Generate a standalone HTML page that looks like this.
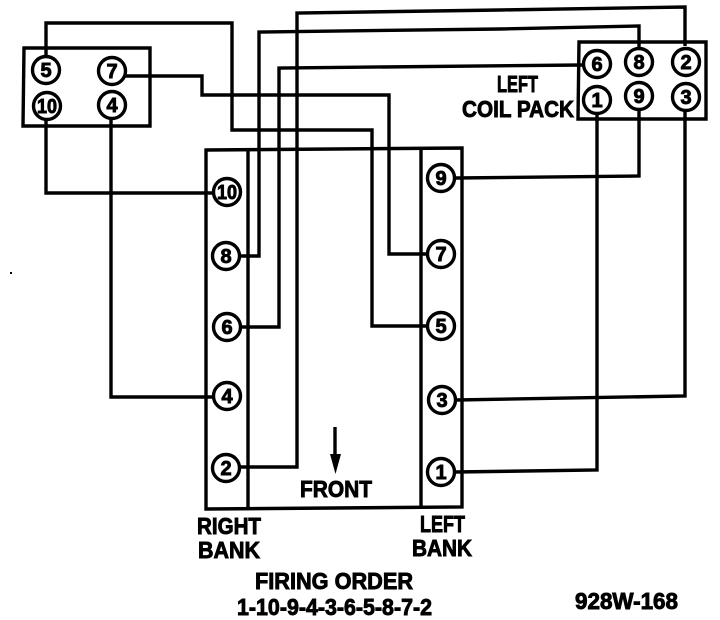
<!DOCTYPE html>
<html><head><meta charset="utf-8"><style>html,body{margin:0;padding:0;background:#fff}svg{display:block}
text{font-family:"Liberation Sans",sans-serif;font-weight:bold;fill:#000;stroke:#000;stroke-width:.9}
.n{font-size:20px;text-anchor:middle}.t{font-size:23px}</style></head><body>
<svg width="720" height="620" viewBox="0 0 720 620" xmlns="http://www.w3.org/2000/svg">
<g fill="none" stroke="#000" stroke-width="3.4" stroke-linejoin="miter">
<path d="M24 48H150V126H23Z"/>
<path d="M579 42H706V119H578Z"/>
<path d="M206 150L462 148V507L206 509Z"/>
<path d="M248 150V508M421 149V507"/>
<path d="M46 56V23H232V130H372V326H428"/>
<path d="M125 76H202V95H389V254H427"/>
<path d="M46 120V193H214"/>
<path d="M111 120V397H214"/>
<path d="M240 256H259V32L500 29L639 26V50"/>
<path d="M240 327H279V68L582 65"/>
<path d="M240 467H297V13L500 10L685 7V46"/>
<path d="M597 112V470L455 472"/>
<path d="M639 110V176L456 178"/>
<path d="M685 112V396L456 400"/>
<path d="M335 427V455"/>
</g>
<path d="M330 454H341L335.500 474Z" fill="#000"/>
<rect x="10" y="272" width="2" height="2" fill="#000"/>
<g fill="#fff" stroke="#000" stroke-width="3.4">
<circle cx="46" cy="70" r="13.500"/><circle cx="112" cy="71" r="13.500"/><circle cx="47" cy="106" r="13.500"/><circle cx="112" cy="105" r="13.500"/>
<circle cx="597" cy="64" r="13.500"/><circle cx="639" cy="62" r="13.500"/><circle cx="686" cy="62" r="13.500"/><circle cx="597" cy="100" r="13.500"/><circle cx="639" cy="96" r="13.500"/><circle cx="686" cy="97" r="13.500"/>
<circle cx="227" cy="192" r="13.500"/><circle cx="226" cy="256" r="13.500"/><circle cx="227" cy="327" r="13.500"/><circle cx="227" cy="396" r="13.500"/><circle cx="226" cy="468" r="13.500"/>
<circle cx="441" cy="178" r="13.500"/><circle cx="441" cy="254" r="13.500"/><circle cx="441" cy="326" r="13.500"/><circle cx="442" cy="400" r="13.500"/><circle cx="441" cy="472" r="13.500"/>
</g>
<g>
<text class="n" x="46" y="77">5</text><text class="n" x="112" y="78">7</text><text class="n" x="47" y="113" textLength="20" lengthAdjust="spacingAndGlyphs">10</text><text class="n" x="112" y="112">4</text>
<text class="n" x="597" y="71">6</text><text class="n" x="639" y="69">8</text><text class="n" x="686" y="69">2</text><text class="n" x="597" y="107">1</text><text class="n" x="639" y="103">9</text><text class="n" x="686" y="104">3</text>
<text class="n" x="227" y="199" textLength="20" lengthAdjust="spacingAndGlyphs">10</text><text class="n" x="226" y="263">8</text><text class="n" x="227" y="334">6</text><text class="n" x="227" y="403">4</text><text class="n" x="226" y="475">2</text>
<text class="n" x="441" y="185">9</text><text class="n" x="441" y="261">7</text><text class="n" x="441" y="333">5</text><text class="n" x="442" y="407">3</text><text class="n" x="441" y="479">1</text>
</g>
<text class="t" x="497" y="92" textLength="41" lengthAdjust="spacingAndGlyphs">LEFT</text>
<text class="t" x="462" y="117" textLength="112" lengthAdjust="spacingAndGlyphs">COIL PACK</text>
<text class="t" x="300" y="497" textLength="72" lengthAdjust="spacingAndGlyphs">FRONT</text>
<text class="t" x="197" y="534" textLength="64" lengthAdjust="spacingAndGlyphs">RIGHT</text>
<text class="t" x="198" y="558" textLength="62" lengthAdjust="spacingAndGlyphs">BANK</text>
<text class="t" x="420" y="532" textLength="45" lengthAdjust="spacingAndGlyphs">LEFT</text>
<text class="t" x="412" y="556" textLength="60" lengthAdjust="spacingAndGlyphs">BANK</text>
<text class="t" x="255" y="589" textLength="158" lengthAdjust="spacingAndGlyphs">FIRING ORDER</text>
<text class="t" x="237" y="615" textLength="195" lengthAdjust="spacingAndGlyphs">1-10-9-4-3-6-5-8-7-2</text>
<text class="t" x="575" y="609" textLength="103" lengthAdjust="spacingAndGlyphs">928W-168</text>
</svg>
</body></html>
